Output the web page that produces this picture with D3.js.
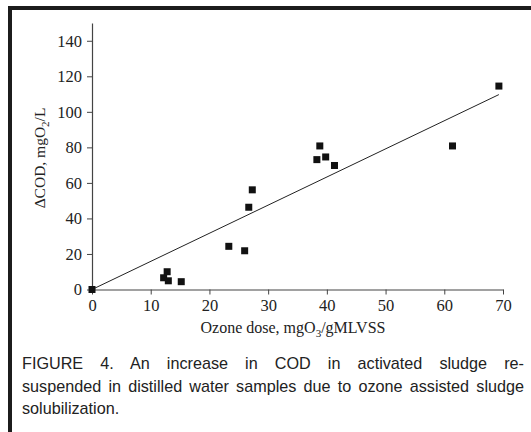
<!DOCTYPE html>
<html>
<head>
<meta charset="utf-8">
<script src="https://cdn.jsdelivr.net/npm/d3@7"></script>
<style>
  body { margin: 0; background: #fff; }
  #wrap { position: relative; width: 531px; height: 432px; overflow: hidden; }
  .cap { position: absolute; left: 22px; width: 502px; font-family: "Liberation Sans", Arial, sans-serif;
         font-size: 16.2px; line-height: 18px; color: #222; text-align: justify; text-align-last: justify; white-space: nowrap; }
  .cap.last { text-align-last: left; }
  svg text { font-family: "Liberation Serif", "Times New Roman", serif; }
</style>
</head>
<body>
<div id="wrap">
  <svg id="chart" width="531" height="432"></svg>
</div>
<script>
// measured points (ozone dose, delta COD)
const doseValues = [0, 12.2, 12.8, 13.0, 15.2, 23.3, 26.0, 26.7, 27.3, 38.3, 38.8, 39.8, 41.3, 61.4, 69.3];
const codValues = [0, 6.6, 10.0, 4.9, 4.4, 24.3, 21.8, 46.3, 56.1, 73.1, 80.8, 74.6, 69.8, 80.8, 114.5];
// fitted line endpoints
const trendX = [0, 69.3];
const trendY = [0, 109.7];
const xTicks = [0, 10, 20, 30, 40, 50, 60, 70];
const yTicks = [0, 20, 40, 60, 80, 100, 120, 140];
const captionLines = [
  "FIGURE 4. An increase in COD in activated sludge re-",
  "suspended in distilled water samples due to ozone assisted sludge",
  "solubilization."
];

const svg = d3.select("#chart");
const serif = "Liberation Serif";

// frame
svg.append("rect").attr("x", 8).attr("y", 6).attr("width", 540).attr("height", 4).attr("fill", "#1c1c1c");
svg.append("rect").attr("x", 8).attr("y", 6).attr("width", 4).attr("height", 440).attr("fill", "#1c1c1c");

const x = d3.scaleLinear().domain([0, 70]).range([92, 503]);
const y = d3.scaleLinear().domain([0, 150]).range([289.5, 23]);

const axisColor = "#444";

const gx = svg.append("g").attr("transform", `translate(0,${y(0)})`)
  .call(d3.axisBottom(x).tickValues(xTicks).tickSize(5).tickSizeOuter(0).tickPadding(5));
const gy = svg.append("g").attr("transform", `translate(${x(0)},0)`)
  .call(d3.axisLeft(y).tickValues(yTicks).tickSize(5).tickSizeOuter(0).tickPadding(5));

[gx, gy].forEach(g => {
  g.attr("font-family", serif).attr("font-size", 16.5);
  g.select(".domain").attr("stroke", axisColor).attr("stroke-width", 1.2);
  g.selectAll(".tick line").attr("stroke", axisColor);
  g.selectAll(".tick text").attr("fill", "#222")
    .attr("font-family", serif).attr("font-size", 16.5);
});

// trend line
svg.append("line")
  .attr("x1", x(trendX[0])).attr("y1", y(trendY[0]))
  .attr("x2", x(trendX[1])).attr("y2", y(trendY[1]))
  .attr("stroke", "#222").attr("stroke-width", 1);

// points
const s = 7;
svg.selectAll("rect.pt").data(doseValues).join("rect")
  .attr("class", "pt")
  .attr("x", d => x(d) - s / 2)
  .attr("y", (d, i) => y(codValues[i]) - s / 2)
  .attr("width", s).attr("height", s)
  .attr("fill", "#111");

// axis titles
const xt = svg.append("text").attr("x", 293).attr("y", 333).attr("text-anchor", "middle")
  .attr("font-size", 16).attr("fill", "#222");
xt.append("tspan").text("Ozone dose, mgO");
xt.append("tspan").text("3").attr("dy", 4).attr("font-size", 11);
xt.append("tspan").text("/gMLVSS").attr("dy", -4);

const yt = svg.append("text").attr("transform", `translate(45,158) rotate(-90)`).attr("text-anchor", "middle")
  .attr("font-size", 15.5).attr("fill", "#222");
yt.append("tspan").text("ΔCOD, mgO");
yt.append("tspan").text("2").attr("dy", 4).attr("font-size", 11);
yt.append("tspan").text("/L").attr("dy", -4);

// caption
const wrap = d3.select("#wrap");
captionLines.forEach((t, i) => {
  wrap.append("div").attr("class", "cap" + (i === captionLines.length - 1 ? " last" : ""))
    .style("top", (354 + i * 22.5) + "px").text(t);
});
</script>
</body>
</html>
